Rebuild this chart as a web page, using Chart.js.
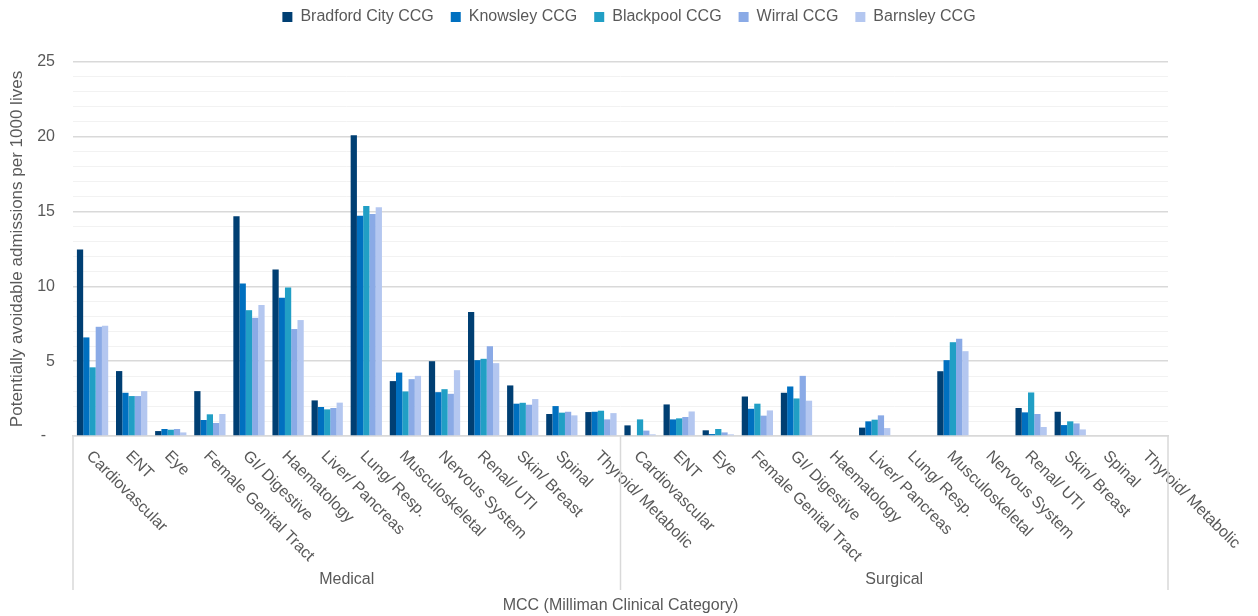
<!DOCTYPE html>
<html>
<head>
<meta charset="utf-8">
<script src="https://cdn.jsdelivr.net/npm/chart.js@4"></script>
<style>
	html, body { margin: 0; padding: 0; background: #fff; }
	#wrap { width: 1258px; height: 616px; position: relative; }
</style>
</head>
<body>
<div id="wrap"><canvas id="mcc-chart"></canvas></div>
<script>
// categories
var groupNames = ['Medical', 'Surgical'];
var mccNames = ['Cardiovascular', 'ENT', 'Eye', 'Female Genital Tract', 'GI/ Digestive', 'Haematology',
	'Liver/ Pancreas', 'Lung/ Resp.', 'Musculoskeletal', 'Nervous System', 'Renal/ UTI', 'Skin/ Breast',
	'Spinal', 'Thyroid/ Metabolic'];

// series values, Medical (14) then Surgical (14)
var bradford  = [12.47, 4.34, 0.33, 3.00, 14.69, 11.13, 2.38, 20.10, 3.67, 5.00, 8.29, 3.38, 1.47, 1.60,
                 0.71, 2.11, 0.38, 2.64, 2.89, 0, 0.56, 0, 4.33, 0, 1.87, 1.62, 0, 0];
var knowsley  = [6.59, 2.89, 0.47, 1.07, 10.20, 9.24, 1.94, 14.73, 4.24, 2.93, 5.07, 2.16, 2.00, 1.62,
                 0, 1.11, 0.13, 1.82, 3.31, 0, 0.98, 0, 5.07, 0, 1.58, 0.73, 0, 0];
var blackpool = [4.59, 2.67, 0.42, 1.45, 8.41, 9.93, 1.78, 15.38, 2.98, 3.13, 5.16, 2.22, 1.56, 1.69,
                 1.11, 1.18, 0.47, 2.16, 2.51, 0, 1.09, 0, 6.27, 0, 2.91, 0.98, 0, 0];
var wirral    = [7.30, 2.67, 0.47, 0.87, 7.90, 7.15, 1.87, 14.84, 3.80, 2.82, 6.00, 2.09, 1.62, 1.11,
                 0.36, 1.27, 0.24, 1.36, 4.02, 0, 1.38, 0, 6.50, 0, 1.47, 0.84, 0, 0];
var barnsley  = [7.37, 3.00, 0.24, 1.47, 8.75, 7.75, 2.23, 15.29, 4.02, 4.40, 4.87, 2.47, 1.38, 1.53,
                 0.11, 1.64, 0.11, 1.71, 2.36, 0, 0.53, 0, 5.67, 0, 0.60, 0.44, 0, 0];

// y tick labels
var yMajorTicks = [0, 5, 10, 15, 20, 25];
var yTickText = ['-  ', '5', '10', '15', '20', '25'];

var textColor = '#595959';
var fontFamily = '"Liberation Sans", Arial, sans-serif';

Chart.defaults.font.family = fontFamily;
Chart.defaults.font.size = 16;
Chart.defaults.color = textColor;

// every MCC appears once per group
var allLabels = [];
groupNames.forEach(function(g) {
	mccNames.forEach(function(m) { allLabels.push(g + ' - ' + m); });
});

// add room under the legend
var legendSpacer = {
	id: 'legendSpacer',
	beforeInit: function(chart) {
		if (!chart.legend) return;
		var fit = chart.legend.fit;
		chart.legend.fit = function() {
			fit.call(this);
			this.height += 27;
		};
	}
};

// rotated category labels, group labels and group separators
var groupAxis = {
	id: 'groupAxis',
	afterDraw: function(chart) {
		var ctx = chart.ctx,
			xs = chart.scales.x,
			perGroup = mccNames.length;

		ctx.save();
		ctx.font = '16px ' + fontFamily;
		ctx.fillStyle = textColor;

		allLabels.forEach(function(l, i) {
			var x = xs.getPixelForValue(i);
			ctx.save();
			ctx.translate(x + 2, xs.top + 12);
			ctx.rotate(Math.PI / 4);
			ctx.textAlign = 'left';
			ctx.textBaseline = 'top';
			ctx.fillText(mccNames[i % perGroup], 0, 0);
			ctx.restore();
		});

		// separators
		var edges = [xs.left];
		for (var g = 1; g < groupNames.length; g++) {
			edges.push((xs.getPixelForValue(g * perGroup - 1) + xs.getPixelForValue(g * perGroup)) / 2);
		}
		edges.push(xs.right);

		ctx.strokeStyle = '#d9d9d9';
		ctx.lineWidth = 1.5;
		edges.forEach(function(e) {
			ctx.beginPath();
			ctx.moveTo(e, xs.top);
			ctx.lineTo(e, 590);
			ctx.stroke();
		});

		ctx.textAlign = 'center';
		ctx.textBaseline = 'middle';
		groupNames.forEach(function(g, i) {
			ctx.fillText(g, (edges[i] + edges[i + 1]) / 2, 580);
		});
		ctx.restore();
	}
};

var ctx = document.getElementById('mcc-chart').getContext('2d');
var mccChart = new Chart(ctx, {
	type: 'bar',
	data: {
		labels: allLabels,
		datasets: [
			{ label: 'Bradford City CCG', data: bradford,  backgroundColor: '#003f73' },
			{ label: 'Knowsley CCG',      data: knowsley,  backgroundColor: '#0070c0' },
			{ label: 'Blackpool CCG',     data: blackpool, backgroundColor: '#219fc5' },
			{ label: 'Wirral CCG',        data: wirral,    backgroundColor: '#8aaae6' },
			{ label: 'Barnsley CCG',      data: barnsley,  backgroundColor: '#b4c7f0' }
		]
	},
	options: {
		responsive: true,
		maintainAspectRatio: false,
		animation: false,
		datasets: {
			bar: {
				categoryPercentage: 0.8,
				barPercentage: 1.0,
				borderWidth: 0
			}
		},
		layout: {
			padding: { top: -8, right: 0, left: 0, bottom: 0 }
		},
		plugins: {
			legend: {
				position: 'top',
				labels: {
					boxWidth: 10,
					boxHeight: 10,
					padding: 17,
					color: textColor,
					font: { size: 16 }
				}
			},
			tooltip: { enabled: false }
		},
		scales: {
			x: {
				grid: { display: false },
				border: { display: true, color: '#d9d9d9', width: 1.5 },
				ticks: { display: false },
				title: {
					display: true,
					text: 'MCC (Milliman Clinical Category)',
					color: textColor,
					font: { size: 16 },
					padding: { top: 4, bottom: 1 }
				},
				afterFit: function(scale) { scale.height = 180; }
			},
			y: {
				min: 0,
				max: 25,
				border: { display: false },
				grid: {
					drawTicks: false,
					color: function(c) {
						return yMajorTicks.indexOf(c.tick.value) >= 0 ? '#d9d9d9' : '#f2f2f2';
					},
					lineWidth: function(c) {
						return yMajorTicks.indexOf(c.tick.value) >= 0 ? 1.5 : 1;
					}
				},
				ticks: {
					stepSize: 1,
					autoSkip: false,
					padding: 18,
					color: textColor,
					font: { size: 16 },
					callback: function(v) {
						var k = yMajorTicks.indexOf(v);
						return k >= 0 ? yTickText[k] : '';
					}
				},
				title: {
					display: true,
					text: 'Potentially avoidable admissions per 1000 lives',
					color: textColor,
					font: { size: 17 },
					padding: { top: 7, bottom: 4 }
				},
				afterFit: function(scale) { scale.width = 73; }
			},
			// empty right axis, keeps room for the long rotated labels
			yRight: {
				position: 'right',
				display: true,
				grid: { display: false },
				border: { display: false },
				ticks: { display: false },
				afterFit: function(scale) { scale.width = 90; }
			}
		}
	},
	plugins: [legendSpacer, groupAxis]
});
window.mccChart = mccChart;
</script>
</body>
</html>
